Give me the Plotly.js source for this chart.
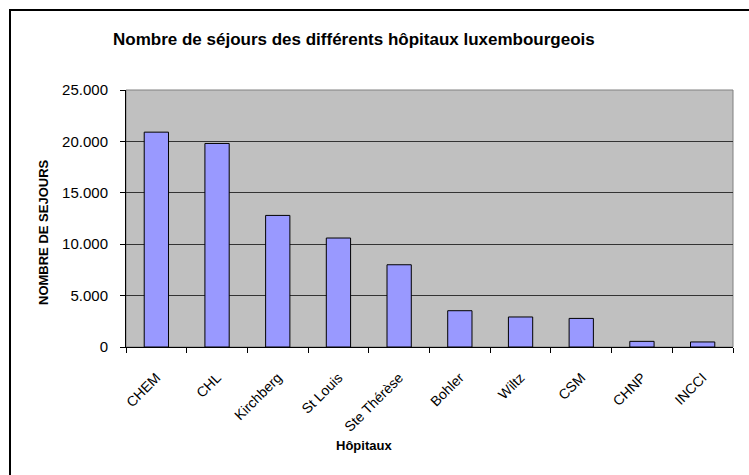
<!DOCTYPE html>
<html>
<head>
<meta charset="utf-8">
<script src="https://cdn.plot.ly/plotly-3.0.1.min.js"></script>
<style>
  body { margin: 0; overflow: hidden; background: #fff; }
  #plot { width: 749px; height: 475px; }
  /* chart frame, runs off the right and bottom of the picture */
  #frame { position: absolute; left: 9px; top: 9px; width: 800px; height: 600px;
           border: 2px solid #000; pointer-events: none; }
</style>
</head>
<body>
<div id="plot"></div>
<div id="frame"></div>
<script>
// hospitals and number of stays
let hopitaux = ["CHEM", "CHL", "Kirchberg", "St Louis", "Ste Thérèse",
                "Bohler", "Wiltz", "CSM", "CHNP", "INCCI"];
let sejours = [20900, 19800, 12800, 10600, 8000, 3530, 2920, 2780, 550, 490];
let yTicks = [0, 5000, 10000, 15000, 20000, 25000];

let trace = {
    x: hopitaux,
    y: sejours,
    type: "bar",
    marker: { color: "#9999FF", line: { color: "#000", width: 1 } },
    hoverinfo: "x+y"
};

// plot area is 126..733 px wide, 90..347 px high
let layout = {
    width: 749,
    height: 475,
    margin: { l: 126, r: 16, t: 90, b: 128 },
    paper_bgcolor: "#fff",
    plot_bgcolor: "#C0C0C0",
    separators: ",.",
    showlegend: false,
    bargap: 0.6,
    font: { family: "Liberation Sans, Arial, sans-serif", color: "#000", size: 15 },
    xaxis: {
        tickangle: -45,
        tickfont: { size: 14 },
        ticks: "outside",
        tickson: "boundaries",
        ticklen: 5,
        tickcolor: "#000",
        ticklabelstandoff: 16,
        showline: true,
        linecolor: "#000",
        linewidth: 1,
        showgrid: false
    },
    yaxis: {
        range: [0, 25000],
        tickvals: yTicks,
        tickformat: ",d",
        ticks: "outside",
        ticklen: 5,
        tickcolor: "#000",
        ticklabelstandoff: 9,
        showline: true,
        linecolor: "#000",
        linewidth: 1,
        showgrid: true,
        gridcolor: "#333",
        gridwidth: 1,
        zeroline: false
    },
    shapes: [
        { type: "rect", xref: "paper", yref: "paper", x0: 0, x1: 1, y0: 0, y1: 1,
          line: { color: "#808080", width: 1 }, layer: "below" }
    ],
    annotations: [
        { text: "<b>Nombre de séjours des différents hôpitaux luxembourgeois</b>",
          xref: "paper", yref: "paper", x: (354 - 126) / 607, y: (347 - 39) / 257,
          xanchor: "center", yanchor: "middle", showarrow: false, font: { size: 17 } },
        { text: "<b>NOMBRE DE SEJOURS</b>", textangle: -90,
          xref: "paper", yref: "paper", x: (43 - 126) / 607, y: (347 - 232) / 257,
          xanchor: "center", yanchor: "middle", showarrow: false, font: { size: 13 } },
        { text: "<b>Hôpitaux</b>",
          xref: "paper", yref: "paper", x: (364 - 126) / 607, y: (347 - 445) / 257,
          xanchor: "center", yanchor: "middle", showarrow: false, font: { size: 13 } }
    ]
};

Plotly.newPlot("plot", [trace], layout, { displayModeBar: false, staticPlot: true });
</script>
</body>
</html>
